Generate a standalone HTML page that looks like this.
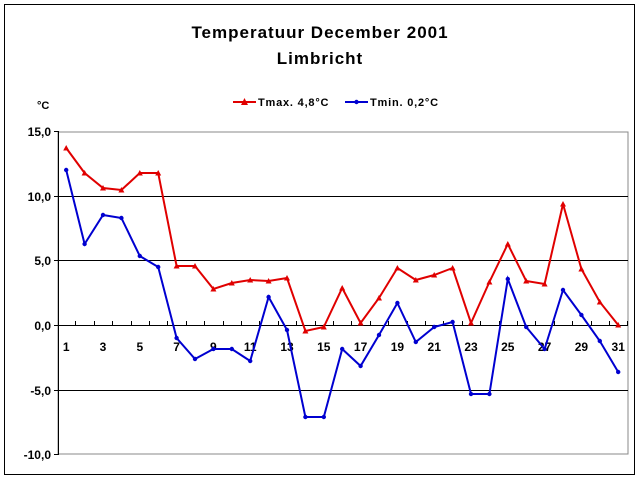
<!DOCTYPE html>
<html><head><style>
body{margin:0;background:#fff}
svg{display:block}
text{font-family:"Liberation Sans",Arial,sans-serif;font-weight:bold;fill:#000}
</style></head><body>
<svg width="640" height="480" viewBox="0 0 640 480" xmlns="http://www.w3.org/2000/svg">
<rect x="0" y="0" width="640" height="480" fill="#fff"/>
<rect x="4.5" y="4.5" width="630" height="470" fill="none" stroke="#000" stroke-width="1"/>
<text x="320" y="38" font-size="17" text-anchor="middle" letter-spacing="1">Temperatuur December 2001</text>
<text x="320" y="64" font-size="17" text-anchor="middle" letter-spacing="1">Limbricht</text>
<text x="37" y="109" font-size="11">°C</text>
<line x1="233" y1="102" x2="256" y2="102" stroke="#e00000" stroke-width="2"/>
<polygon points="244.5,98 241,105 248,105" fill="#e00000"/>
<text x="258" y="106" font-size="11" letter-spacing="0.8">Tmax. 4,8°C</text>
<line x1="345" y1="102" x2="368" y2="102" stroke="#0000d0" stroke-width="2"/>
<circle cx="356.5" cy="102" r="2.2" fill="#0000d0"/>
<text x="370" y="106" font-size="11" letter-spacing="0.8">Tmin. 0,2°C</text>
<rect x="58" y="132" width="570" height="322" fill="none" stroke="#888" stroke-width="1"/>
<g stroke="#000" stroke-width="1">
<line x1="58" y1="196.5" x2="628" y2="196.5"/>
<line x1="58" y1="260.5" x2="628" y2="260.5"/>
<line x1="58" y1="325.5" x2="628" y2="325.5"/>
<line x1="58" y1="390.5" x2="628" y2="390.5"/>
<line x1="58.5" y1="131" x2="58.5" y2="455"/>
<line x1="54" y1="131.5" x2="58" y2="131.5"/>
<line x1="54" y1="196.5" x2="58" y2="196.5"/>
<line x1="54" y1="260.5" x2="58" y2="260.5"/>
<line x1="54" y1="325.5" x2="58" y2="325.5"/>
<line x1="54" y1="390.5" x2="58" y2="390.5"/>
<line x1="54" y1="454.5" x2="58" y2="454.5"/>
</g>
<g font-size="12" text-anchor="end">
<text x="51" y="136">15,0</text>
<text x="51" y="201">10,0</text>
<text x="51" y="265">5,0</text>
<text x="51" y="330">0,0</text>
<text x="51" y="395">-5,0</text>
<text x="51" y="459">-10,0</text>
</g>
<g id="ticks" stroke="#000" stroke-width="1"></g>
<g id="xl" font-size="12" text-anchor="middle"></g>
<polyline id="pmax" fill="none" stroke="#e00000" stroke-width="2"/>
<polyline id="pmin" fill="none" stroke="#0000d0" stroke-width="2"/>
<g id="mk"></g>
</svg>
<script>
var mx=[148,173,188,190,173,173,266,266,289,283,280,281,278,331,327,288,323,298,268,280,275,268,323,282,244,281,284,204,269,302,325];
var mn=[170,244,215,218,256,267,338,359,349,349,361,297,330,417,417,349,366,335,303,342,327,322,394,394,279,327,349,290,315,341,372];
var ns="http://www.w3.org/2000/svg";
function X(i){return 66.2+i*18.4;}
var a=[],b=[],mk=document.getElementById('mk'),t=document.getElementById('ticks'),xl=document.getElementById('xl');
for(var i=0;i<31;i++){
 a.push(X(i)+","+mx[i]);b.push(X(i)+","+mn[i]);
 var p=document.createElementNS(ns,'polygon');
 p.setAttribute('points',X(i)+","+(mx[i]-3)+" "+(X(i)-3)+","+(mx[i]+2.5)+" "+(X(i)+3)+","+(mx[i]+2.5));
 p.setAttribute('fill','#e00000');mk.appendChild(p);
 var c=document.createElementNS(ns,'circle');
 c.setAttribute('cx',X(i));c.setAttribute('cy',mn[i]);c.setAttribute('r',2.2);c.setAttribute('fill','#0000d0');mk.appendChild(c);
 if(i%2==0){var tx=document.createElementNS(ns,'text');tx.setAttribute('x',X(i));tx.setAttribute('y',351);tx.textContent=(i+1);xl.appendChild(tx);}
}
for(var k=1;k<=31;k++){var l=document.createElementNS(ns,'line');var xx=Math.round(57+k*18.4)+0.5;
 l.setAttribute('x1',xx);l.setAttribute('x2',xx);l.setAttribute('y1',321);l.setAttribute('y2',325);t.appendChild(l);}
document.getElementById('pmax').setAttribute('points',a.join(' '));
document.getElementById('pmin').setAttribute('points',b.join(' '));
</script>
</body></html>
